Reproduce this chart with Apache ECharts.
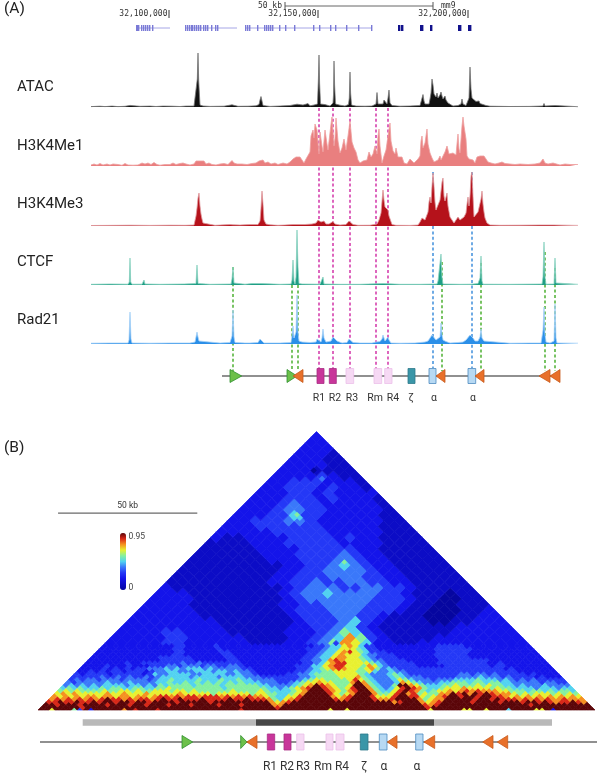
<!DOCTYPE html>
<html><head><meta charset="utf-8">
<style>html,body{margin:0;padding:0;background:#fff}#c{width:600px;height:773px}</style>
<script src="https://cdn.jsdelivr.net/npm/echarts@6/dist/echarts.min.js"></script>
</head><body><div id="c"></div>
<script>
// ---------- DATA: signal tracks, [site, signal] ----------
const trackNames = ['ATAC','H3K4Me1','H3K4Me3','CTCF','Rad21'];
const atacSignal = [[91,.4],[100,.8],[105,.4],[112,.9],[118,.4],[125,.7],[130,1.6],[131,.5],[140,.7],[150,.9],[156,.5],[163,.9],[172,.8],[180,.5],[186,.9],[194,1],[196,2],[197.3,28],[198,54],[198.7,26],[200,2],[203,1],[210,.6],[224,.8],[232,2.2],[234,2],[238,.7],[248,.8],[256,1.2],[259,2.5],[260,7],[261,10.5],[262,6],[263,1.5],[270,.6],[280,1],[290,1.5],[297,2.8],[299,1],[303,2],[308,3.4],[310,1.2],[314,2],[317.5,3],[318.4,28],[319,52],[319.6,24],[320.5,3],[325,2.4],[330,1],[333,4],[333.5,12],[334,46],[334.6,22],[335.5,3],[340,1.8],[345,1],[348.5,2.5],[349.3,9],[350,35],[350.6,14],[351.5,2],[356,.9],[365,.8],[372,1],[376,3],[377,14.5],[378,3],[380,1],[383,3],[384,7],[385,5],[387,3],[388,9],[389,17],[390,4],[392,1.5],[400,.8],[410,1],[420,1.5],[422,3],[423,12.5],[424,6],[425,3],[427,2],[429,3],[430,8],[431,14],[432,28],[433,22],[434,13],[436,10],[437,14],[438,9],[440,12],[441,15],[442,11],[443,8],[445,11],[446,7],[448,4],[450,2],[453,1],[458,1.5],[461,3],[462,8],[463,3],[466,1.5],[468,3],[469,9],[470,40],[471,18],[472,9],[474,7],[476,5.5],[478,4.5],[479,6],[480,3.5],[483,2.5],[486,1.5],[490,.8],[510,.5],[530,.6],[543,1],[544,3.5],[545,1],[555,1.5],[556,.5],[578,.3]];
const me1Signal = [[91,1],[94,2],[97,1],[100,2.5],[103,1],[107,2],[110,1],[113,2],[118,1.5],[122,.7],[125,2.5],[128,1],[133,.8],[138,1],[142,3],[145,2],[148,3],[151,1.5],[154,3.5],[157,1.5],[160,.8],[165,1.5],[170,1.5],[173,3],[176,1.5],[180,2.5],[183,3],[186,2],[190,1],[194,2],[196,5],[198,4],[200,5],[202,3],[204,5],[206,2],[209,3],[212,1.5],[216,1],[220,2],[224,2.5],[228,1.5],[232,5.5],[234,3],[237,2],[242,2],[247,1.5],[252,2.5],[256,3],[259,5],[261,3.5],[263,6],[265,3],[268,4],[271,2],[275,3],[278,1.5],[283,3],[287,2],[290,4],[293,7],[296,9],[298,11],[300,9],[302,8],[304,3],[306,7],[308,8],[310,14],[311,30],[313,36],[314,28],[315,42],[317,36],[319,12],[320,34],[322,20],[323,14],[325,36],[327,22],[328,16],[330,18],[331,42],[332,49],[334,20],[335,28],[336,48],[338,25],[340,13],[342,18],[344,27],[346,16],[348,30],[350,45],[352,24],[354,18],[356,14],[358,6],[360,3],[363,5],[365,7],[367,6],[369,14],[371,9],[373,12],[375,20],[377,12],[378,30],[379,37],[380,20],[382,3],[384,10],[386,16],[388,30],[390,43],[391,25],[393,15],[395,12],[396,18],[398,9],[400,7],[402,9],[404,3],[407,2],[410,7],[412,5],[414,3],[416,4],[418,7],[420,10],[421,25],[422,30],[423,18],[425,23],[427,37],[428,22],[430,13],[432,8],[434,4],[436,2],[438,6],[440,10],[441,6],[443,7],[445,14],[447,20],[449,12],[451,10],[453,13],[455,15],[456,11],[457,22],[458,32],[459,17],[460,13],[462,40],[463,49],[464,40],[466,27],[467,10],[469,7],[471,9],[473,6],[475,3],[477,9],[480,10],[484,10],[486,7],[488,4],[491,3],[495,2],[499,3],[502,4],[505,2.5],[510,2],[515,1.5],[520,2],[528,1.5],[535,2],[540,3],[543,7],[545,3],[548,2],[553,3],[555,2],[560,1],[565,2],[570,1.5],[578,1.5]];
const me3Signal = [[91,.5],[120,.7],[130,.8],[150,.6],[170,.8],[185,.7],[194,1],[195,3],[196,10],[197,18],[198,28],[199,33],[200,20],[201,12],[202,7],[203,3],[205,1.2],[215,.7],[230,1.5],[233,1.2],[240,1],[250,1.5],[258,1.5],[260,5],[261,18],[262,35],[263,22],[264,6],[266,2],[270,1.2],[278,.7],[285,1],[293,1.5],[305,1.5],[312,2],[316,3],[318,6],[321,4],[324,5],[326,2],[329,2],[331,2.5],[333,4.5],[335,2],[340,1],[346,1.5],[349,5],[351,5.5],[353,1.5],[358,.7],[370,.8],[374,1.5],[376,3],[377,2],[379,6],[381,13],[382,25],[383,36],[384,26],[385,19],[386,17],[388,16],[389,10],[390,8],[392,1.5],[396,.7],[410,.6],[418,1],[420,4],[422,8],[425,6],[427,8],[428,14],[429,24],[430,29],[431,23],[432,40],[433,53],[434,40],[435,24],[436,16],[438,14],[440,26],[441,35],[442,44],[443,48],[444,30],[445,25],[447,33],[448,20],[450,9],[452,6],[454,3],[456,6],[458,9],[460,6],[462,8],[464,9],[466,13],[467,22],[468,29],[469,20],[470,30],[471,50],[472,54],[473,30],[474,9],[476,11],[478,14],[480,16],[481,27],[482,35],[483,22],[484,14],[485,8],[487,3],[490,1],[500,.7],[520,.8],[540,1],[553,1],[554,3],[555,1],[578,.6]];
const ctcfSignal = [[91,.7],[110,1],[128,.8],[129.3,3],[130,27],[130.7,3],[132,.8],[142,.8],[143,2],[144,5],[145,1],[160,.7],[184,1],[185,3],[186,.8],[196,1.5],[197,20],[198,1.5],[210,.7],[231,1],[232,6],[233,18],[234,2],[245,.8],[252,1.5],[253,.7],[261,1.5],[262,.7],[280,.7],[291,1],[292,5],[293,25],[294,4],[295,1],[296,8],[297,55],[298,18],[299,1.5],[302,1],[303,3],[304,.8],[320,.8],[322,1],[323,8],[324,1],[340,.7],[360,.7],[383,1.5],[384,.7],[400,.7],[420,.7],[437,1],[438,4],[440,5.5],[441,31],[442,8],[443,1],[460,.7],[471,.8],[472,2],[478,1.5],[479,3],[480,7],[481,29],[482,4],[483,.8],[510,.7],[542,1],[543,8],[544,43],[545,8],[546,.8],[554,1],[555,27],[556,2],[578,.7]];
const rad21Signal = [[91,.8],[110,1],[128,1],[129,4],[130,32],[131,5],[132,1],[150,.8],[170,1],[190,1],[195,2],[196,7],[197,12],[198,7],[199,3],[200,1],[220,1],[230,1.5],[232,8],[233,34],[234,7],[235,1.5],[245,1],[247,1.5],[250,1],[258,1.5],[260,5],[261,7],[262,4],[264,1],[280,1],[291,1.5],[292,8],[293,18],[294,6],[295,4],[296,12],[297,49],[298,12],[299,3],[302,2],[310,1.5],[316,2],[317,5],[318,7],[319,3],[321,2],[322,6],[323,15],[324,6],[326,2],[331,3],[333,7],[334,9],[335,7],[337,3],[342,1],[347,1.5],[349,5],[350,7],[351,4],[353,1.5],[360,1],[361,2.5],[362,1],[372,1],[376,2],[377,1.5],[380,2.5],[382,5],[383,9],[384,6],[385,3],[387,3.5],[388,7],[389,4],[391,1],[400,.8],[415,1],[420,1.5],[425,2],[428,3],[430,5],[432,9],[434,8],[436,4],[438,3],[440,7],[441,21],[442,9],[443,4],[446,2.5],[450,1],[458,1.5],[463,2],[466,4],[468,6],[470,9],[472,11],[473,6],[475,3],[478,3],[480,7],[481,15],[482,6],[484,3],[486,1],[510,.8],[530,1],[541,1],[542,3],[543,14],[544,37],[545,10],[546,2],[550,1],[554,3],[555,40],[556,6],[557,1],[578,.8]];

// genome ruler and genes
const genomeTickSites = [169,318,468];
const genomeTickLabels = ['32,100,000','32,150,000','32,200,000'];
const geneSpans = [[136,170],[185,237],[245,372]];
const lightExons = [136,137,138,141,143,145,147,149,152,185,187,189,191,192,194,196,198,200,203,205,207,211,215,217,245,247,249,257,264,266,268,270,272,279,285,294,313,319,330,335,346,358,371];
const darkExons = [398,399,401,402,420,421,422,430,431,458,459,460,468,469,470];

// dashed guides
const pinkGuides = [319,333,350,376,388];
const blueGuides = [433,472];
const greenGuides = [[233,167],[292,185],[298,185],[442,162],[481,163],[545,152],[555,168]];

// locus diagram, panel A
const locusLabelsA = ['R1','R2','R3','Rm','R4','ζ','α','α'];
const locusLabelSitesA = [319,335,352,375,393,411,434,473];
const locusKinds = ['gf','gf','or','act','act','pale','pale','pale','zeta','alpha','or','alpha','or','or','or'];
const locusStartA = [230,287,293,317,329.3,346,374,384.7,408,429,436,468,475,539,550];
const locusEndA   = [241.7,297,303,324,336.3,353.7,381.7,392,415,436,445,475.7,484,550,560];
// locus diagram, panel B
const locusLabelsB = ['R1','R2','R3','Rm','R4','ζ','α','α'];
const locusLabelSitesB = [270,287,303,323,342,364,384,417];
const locusStartB = [182,240.7,246.7,267.3,284,296.7,326,336,360.3,379.3,387.3,415.7,424,482.7,497.3];
const locusEndB   = [192.7,247,257,274.7,291,304,333,344,368,387,397,423,434.7,493,507.7];
const barStart = [82.7,256,434];
const barEnd = [256,434,552];
const barTones = ['#b9b9b9','#474747','#b9b9b9'];

// contact matrix: levels 0..a
const heatTop = 0.95;
const heatColors = ['#0606a0','#0c0cc6','#1414ea','#2438f6','#3a78fa','#52d2f0','#84f0a0','#e8f030','#f59020','#d82818','#5a0508'];
// fine rows, one per distance d from the diagonal, split by domain
const leftRows = [
"aa7aaa63a2aaaaa8a9aaa9aaaaaaaaaaaaaa9aaaaaa",
"aaaaaaa9a",
"aa9aaa9aaaa9aaa9aa9aaa9aaa9aaaa9aaa9aaa",
"99a99a99a9aa9aa9aa9aaaa9aaaaa9aaaaaaaaa",
"8989898989a998989989a99a999a9999a99a99",
"8787878878878878878998989989998989898",
"7878777778778777877777877777677777767",
"676766667667767667776776766666676666",
"56565556566556655667666666666566666",
"4545454555545545465666656666566666",
"434444454445444455655656565656565",
"34344344434444345565555655565565",
"3333343343433434555554555545555",
"323333233333235445555445555445",
"22323233233323445544455545545",
"2222323232334445454555454444",
"222232223222333443444344334",
"22222223223333333433433333",
"222222222222233333322222",
"22222222222233333322222",
"2222222222222233222222",
"222222222222223322222",
"22222222222223322222",
"2222222222222332222"
];
const midRows = [
"|aaaaaaaaa7aa7aaaaaaaaaaaaaa|",
"9|a|9",
"88|a|98",
"878|9aaaaaaaaaaaaaaaaaa89a|878",
"8657|89aaaaaa989aaaa9889aaaa|8678",
"76557|79aaaaa8789aaa97779aa9|97678",
"766556|78aaaa97678aaa86679a8|967668",
"7655556|78aaa987689aa865579a|9865677",
"66554567|89aa987679aa8654579|a9865567",
"655444456|78a987667aa865446a|a87655566",
"5544433456|778776668a8654445|8765444556",
"54444333345|6776666797654445|76544434445",
"444333333344|566667778654445|654443333334",
"4432222233445|66667777654445|6543333333334",
"44322222223345|5667777667544|54433333333333",
"433222222223345|678987767864|543333333333333",
"4322222222233355|78997776875|4333332222233333",
"33222222222223345|7899777765|43333322223333333",
"332222222222233445|898777654|433332222223333333",
"3322222222222233455|78877654|3333222222233333322",
"33222222222222233455|7877754|43332222222333333222",
"332222222222222233455|789765|333222222222333333222",
"3222222222222222233455|77765|3322222222223333333222",
"32222222222222222233455|7875|33222222222223333322222"
];
const rightRows = [
"7aaaaa77aa7aaa5aaaa77a2aaaaaaa",
"a",
"9aaaaaaaaaaaaaaaa9a",
"9aaaaa9aaaa9aaa9aa9a9899a98",
"8aaaaa9aa9a999898989889888",
"9aa9aa9aa9987878787878787",
"8a9a8a9a9888767677767676",
"87898988877666566565665",
"7787777676655554555455",
"766676766554544454444",
"66566566554444434433",
"5556555454343433333",
"444544434333323222",
"43443433333232222",
"3333333332222222",
"333333232222222",
"33323322222222",
"3322322222222",
"332222222222",
"2","2","2","2","2"
];
// coarse rows for d = 24, 26, ... 98, each cell spans two bins
const coarseRows = [
"22222332222221112234687522112222222222",
"2222233222221111223458632111122222222",
"222233222211111222346532111111222222",
"22222222211111122334532111111122222",
"2222222211111112333453211110011222",
"222222111111112333443321110001122",
"22222111111112333444333211000112",
"2222111111112233444433321100111",
"222211111111234444443332110011",
"22211111111234454444332111011",
"2111111111123444334433211111",
"111111111223343344332211111",
"11111111122333444332211111",
"1111111112233444432211111",
"111111111223345432211111",
"11111112223334432211111",
"1111112223333432211111",
"111112222333332211111",
"11112223333322221111",
"2112222333323221111",
"222223333322222111",
"22233333322222111",
"2233344322222211",
"222335332222211",
"22234433222221",
"2223433222221",
"222333232221",
"22233232222",
"2233323221",
"223332221",
"22223211",
"2221111",
"222211",
"22211",
"2221",
"222",
"22",
"2"
];
// isolated single cells: [left bin, right bin, level]
const spotCells = [[11,81,'6'],[11,80,'5'],[12,81,'5'],[28,81,'6'],[28,80,'5'],[29,81,'5'],[6,92,'0'],[9,92,'4'],[41,65,'3'],[37,59,'3']];
const heatScaleSpan = [3.6,28.6];      // 50 kb in matrix bins

// ---------- build ----------
const heatCells = [];
const lvl=c=>parseInt(c,16)*heatTop/10;
coarseRows.forEach((row,idx)=>{
  const d = 24 + idx*2;
  for(let k=0;k<row.length;k++) heatCells.push([2*k,2*k+d,2,lvl(row[k])]);
});
const fit=(s,n)=>s.padEnd(n,s.slice(-1)||'2').slice(0,n);
leftRows.forEach((lr,d)=>{
  const mid=midRows[d].split('|');
  const all=fit(lr,43-d)+fit(mid[0],d)+fit(mid[1],27-d)+fit(mid[2],d)+fit(rightRows[d],30-d);
  for(let i=0;i<all.length;i++) heatCells.push([i,i+d,1,lvl(all[i])]);
});
spotCells.forEach(s=>heatCells.push([s[0],s[1],1,lvl(s[2])]));

const grids=[],xAxes=[],yAxes=[],series=[];
function addGrid(left,top,w,h,xmin,xmax,ymin,ymax,inv){
  grids.push({left,top,width:w,height:h,containLabel:false});
  xAxes.push({type:'value',gridIndex:grids.length-1,min:xmin,max:xmax,show:false});
  yAxes.push({type:'value',gridIndex:grids.length-1,min:ymin,max:ymax,show:false,inverse:!!inv});
  return grids.length-1;
}
function custom(g,data,renderItem,extra){
  const s=Object.assign({type:'custom',xAxisIndex:g,yAxisIndex:g,data,renderItem,silent:true,clip:false,animation:false,progressive:0},extra||{});
  series.push(s);return series.length-1;
}
function textLayer(g,xs,y,labels,font,fill,align){
  custom(g,xs.map(x=>[x,y]),(p,api)=>{
    const c=api.coord([api.value(0),api.value(1)]);
    return {type:'text',style:{text:labels[p.dataIndex],x:c[0],y:c[1],align:align||'center',verticalAlign:'middle',font,fill}};
  });
}

// genes + ruler
const gRuler=addGrid(91,0,487,36,91,578,0,36,true);
custom(gRuler,genomeTickSites,(p,api)=>{
  const c=api.coord([api.value(0),14]);
  return {type:'group',children:[
    {type:'line',shape:{x1:c[0],y1:c[1]-4,x2:c[0],y2:c[1]+4},style:{stroke:'#333',lineWidth:1}},
    {type:'text',style:{text:genomeTickLabels[p.dataIndex],x:c[0]-1.5,y:c[1],align:'right',verticalAlign:'middle',font:'8px "DejaVu Sans Mono"',fill:'#333'}}
  ]};
});
custom(gRuler,[[285,433]],(p,api)=>{
  const a=api.coord([api.value(0),6]),b=api.coord([api.value(1),6]);
  return {type:'group',children:[
    {type:'line',shape:{x1:a[0],y1:6,x2:b[0],y2:6},style:{stroke:'#666',lineWidth:1}},
    {type:'line',shape:{x1:a[0],y1:2,x2:a[0],y2:10},style:{stroke:'#555',lineWidth:1}},
    {type:'line',shape:{x1:b[0],y1:2,x2:b[0],y2:10},style:{stroke:'#555',lineWidth:1}},
    {type:'text',style:{text:'50 kb',x:a[0]-3,y:6,align:'right',verticalAlign:'middle',font:'8px "DejaVu Sans Mono"',fill:'#333'}},
    {type:'text',style:{text:'mm9',x:b[0]+8,y:6,align:'left',verticalAlign:'middle',font:'8px "DejaVu Sans Mono"',fill:'#333'}}
  ]};
});
custom(gRuler,geneSpans,(p,api)=>{
  const a=api.coord([api.value(0),28]),b=api.coord([api.value(1),28]);
  return {type:'line',shape:{x1:a[0],y1:a[1],x2:b[0],y2:a[1]},style:{stroke:'#a6a6e6',lineWidth:1}};
});
function exonLayer(list,color,w){
  custom(gRuler,list,(p,api)=>{
    const a=api.coord([api.value(0),25]),b=api.coord([api.value(0),31]);
    return {type:'rect',shape:{x:a[0],y:a[1],width:w,height:b[1]-a[1]},style:{fill:color}};
  });
}
exonLayer(lightExons,'#7a7ad6',1.4);
exonLayer(darkExons,'#12128c',1.4);

// tracks
const tracks=[[atacSignal,107,'#111111','#777777'],[me1Signal,166,'#e97f7f','#eda0a0'],[me3Signal,226,'#b5121b','#e09a9e'],[ctcfSignal,285,'#1f9e85','#8cd3c1'],[rad21Signal,344,'#2b8fe8','#a9d3f7']];
tracks.forEach(t=>{
  const g=addGrid(91,t[1]-60,487,60,91,578,0,60);
  series.push({type:'line',xAxisIndex:g,yAxisIndex:g,data:t[0],showSymbol:false,symbol:'none',silent:true,clip:false,animation:false,
    lineStyle:{color:t[3],width:.8},areaStyle:{color:t[2],opacity:1},itemStyle:{color:t[2]}});
});

// guides + locus A
const gOver=addGrid(91,100,487,310,91,578,0,310,true);
function guide(list,color,y1){
  custom(gOver,list,(p,api)=>{
    const a=api.coord([api.value(0),api.value(1)]),b=api.coord([api.value(0),y1]);
    return {type:'line',shape:{x1:a[0],y1:a[1],x2:b[0],y2:b[1]},style:{stroke:color,lineWidth:1.5,lineDash:[3,2.4]}};
  });
}
guide(pinkGuides.map(x=>[x,8]),'#d233a8',269);
guide(blueGuides.map(x=>[x,72]),'#3f8fdc',268);
guide(greenGuides,'#4cb030',271);

const kindStyle={
  gf:{fill:'#6cc04a',stroke:'#2f8f2f',tri:1},
  or:{fill:'#e8702a',stroke:'#c85a1c',tri:-1},
  act:{fill:'#c8369a',stroke:'#a92c84'},
  pale:{fill:'#f6d9f4',stroke:'#ecc0ea'},
  zeta:{fill:'#3a96a8',stroke:'#2d7a8c'},
  alpha:{fill:'#b7d9f3',stroke:'#4d8abf'}
};
function locus(g,span,starts,ends,yc,halfRect,halfTri){
  custom(g,[span],(p,api)=>{
    const a=api.coord([api.value(0),yc]),b=api.coord([api.value(1),yc]);
    return {type:'line',shape:{x1:a[0],y1:a[1],x2:b[0],y2:a[1]},style:{stroke:'#222',lineWidth:1.2}};
  });
  custom(g,starts.map((s,i)=>[s,ends[i]]),(p,api)=>{
    const a=api.coord([api.value(0),yc]),b=api.coord([api.value(1),yc]);
    const st=kindStyle[locusKinds[p.dataIndex]];
    if(st.tri){
      const tip=st.tri>0?b[0]:a[0],bs=st.tri>0?a[0]:b[0];
      return {type:'polygon',shape:{points:[[bs,a[1]-halfTri],[tip,a[1]],[bs,a[1]+halfTri]]},style:{fill:st.fill,stroke:st.stroke,lineWidth:.8}};
    }
    return {type:'rect',shape:{x:a[0],y:a[1]-halfRect,width:b[0]-a[0],height:2*halfRect},style:{fill:st.fill,stroke:st.stroke,lineWidth:.8}};
  });
}
locus(gOver,[222,560],locusStartA,locusEndA,276,7.5,6.5);
textLayer(gOver,locusLabelSitesA,298,locusLabelsA,'10.5px Roboto','#333');

// matrix
const gHeat=addGrid(38,431.5,557,278.5,0,100,0,100);
const heatIdx=custom(gHeat,heatCells,(p,api)=>{
  const a=api.value(0),b=api.value(1),s=api.value(2);
  const col=api.visual('color');
  const pt=(u,v)=>api.coord([(u+v)/2,Math.max(0,v-u)]);
  return {type:'polygon',shape:{points:[pt(a,b),pt(a,b+s),pt(a+s,b+s),pt(a+s,b)]},style:{fill:col,stroke:col,lineWidth:.7}};
},{dimensions:['a','b','span','value'],encode:{value:3}});
custom(gHeat,[heatScaleSpan],(p,api)=>{
  const a=api.coord([api.value(0),70.7]),b=api.coord([api.value(1),70.7]);
  return {type:'group',children:[
    {type:'line',shape:{x1:a[0],y1:a[1],x2:b[0],y2:a[1]},style:{stroke:'#444',lineWidth:1}},
    {type:'text',style:{text:'50 kb',x:(a[0]+b[0])/2,y:a[1]-7,align:'center',verticalAlign:'middle',font:'8.5px Roboto',fill:'#333'}}
  ]};
});

// bars + locus B
const gLow=addGrid(38,715,559,58,38,597,0,58,true);
custom(gLow,barStart.map((s,i)=>[s,barEnd[i]]),(p,api)=>{
  const a=api.coord([api.value(0),4.3]),b=api.coord([api.value(1),10.7]);
  return {type:'rect',shape:{x:a[0],y:a[1],width:b[0]-a[0],height:b[1]-a[1]},style:{fill:barTones[p.dataIndex]}};
});
locus(gLow,[40,597],locusStartB,locusEndB,27,8,6.5);
textLayer(gLow,locusLabelSitesB,51.5,locusLabelsB,'12px Roboto','#333');

const graphic=[];
[['(A)',4,10],['(B)',4,449]].forEach(t=>graphic.push({type:'text',left:t[1],top:t[2]-9,silent:true,style:{text:t[0],font:'15.5px Roboto',fill:'#222'}}));
[[17,88],[17,147],[17,205],[17,263],[17,321]].forEach((p,i)=>graphic.push({type:'text',left:p[0],top:p[1]-8,silent:true,style:{text:trackNames[i],font:'15px Roboto',fill:'#222'}}));
graphic.push({type:'text',left:128.5,top:532.5,silent:true,style:{text:'0.95',font:'8.5px Roboto',fill:'#444'}});
graphic.push({type:'text',left:128.5,top:583,silent:true,style:{text:'0',font:'8.5px Roboto',fill:'#444'}});

const chart=echarts.init(document.getElementById('c'),null,{renderer:'canvas'});
chart.setOption({
  animation:false,backgroundColor:'#fff',
  grid:grids,xAxis:xAxes,yAxis:yAxes,series,graphic,
  visualMap:[{type:'continuous',min:0,max:heatTop,seriesIndex:heatIdx,dimension:3,left:120,top:533,itemWidth:6,itemHeight:57,calculable:false,padding:0,text:null,showLabel:false,handleSize:0,indicatorSize:0,handleStyle:{opacity:0,borderWidth:0},indicatorStyle:{opacity:0},inRange:{color:heatColors},silent:true}]
});
</script></body></html>
